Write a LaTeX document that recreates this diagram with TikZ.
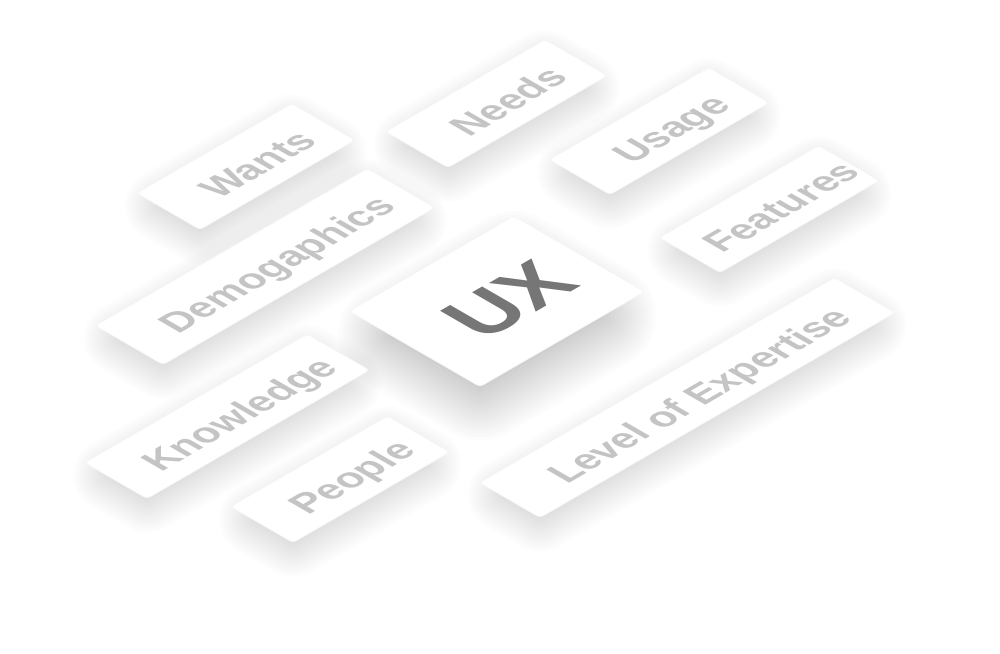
\documentclass[tikz,border=0pt]{standalone}
\usepackage{fontspec}
\setmainfont{Liberation Sans}
\definecolor{labelgray}{RGB}{196,196,196}
\definecolor{uxgray}{RGB}{118,118,118}
\definecolor{cardedge}{RGB}{246,246,246}
\begin{document}
\begin{tikzpicture}[x=0.02cm, y=0.02cm,
	card/.style={rectangle, fill=white, draw=cardedge, line width=0.4pt, rounded corners=2pt, inner sep=0pt,
		transform shape, anchor=south west},
	cardtext/.style={inner sep=0pt, transform shape, text height=15.8pt, text depth=0pt,
		font=\bfseries\fontsize{22}{22}\selectfont, text=labelgray},
	bigtext/.style={cardtext, text height=33pt, font=\bfseries\fontsize{46}{46}\selectfont, text=uxgray}]
	\fill[white] (0,0) rectangle (1000,653);

	% name / bottom corner / size / shadow drop, inset, step, opacity / style / label
	\def\cardlist{wants/200/230/179/73/12/14/2.25/0.008/cardtext/Wants,
		needs/448/168/184/72/12/14/2.25/0.008/cardtext/Needs,
		usage/610/195/184/70/12/14/2.25/0.008/cardtext/Usage,
		features/720/273/184/70/12/14/2.25/0.008/cardtext/Features,
		demographics/163/365/314/78/12/14/2.25/0.008/cardtext/Demogaphics,
		knowledge/147/499/257/72/12/14/2.25/0.008/cardtext/Knowledge,
		people/293/543/181/72/12/14/2.25/0.008/cardtext/People,
		expertise/540/518/410/70/12/14/2.25/0.008/cardtext/Level of Expertise,
		ux/480/387/190/151/24/25/3.4/0.011/bigtext/UX}

	% soft shadows first
	\foreach \name/\bx/\by/\w/\h/\d/\i/\s/\a/\kind/\txt in \cardlist {
		\begin{scope}[shift={(\bx,653-\by)}, cm={0.866,0.5,-0.866,0.5,(0,0)}]
			\foreach \k in {1,...,16}
				\draw[black, opacity=\a, line width=\k*\s*2*0.02cm, line join=round]
					(\i-\d,\i-\d) -- (\w-\d-\i,\i-\d) -- (\w-\d-\i,\h-\d-\i) -- (\i-\d,\h-\d-\i) -- cycle;
		\end{scope}
	}

	% cards and labels on top
	\foreach \name/\bx/\by/\w/\h/\d/\i/\s/\a/\kind/\txt in \cardlist {
		\begin{scope}[shift={(\bx,653-\by)}, cm={0.866,0.5,-0.866,0.5,(0,0)}]
			\node[card, minimum width=\w*0.02cm, minimum height=\h*0.02cm] (\name) at (0,0) {};
			\node[\kind, xshift=0.18cm, yshift=-0.08cm] (\name-label) at (\name.center) {\txt};
		\end{scope}
	}
\end{tikzpicture}
\end{document}
